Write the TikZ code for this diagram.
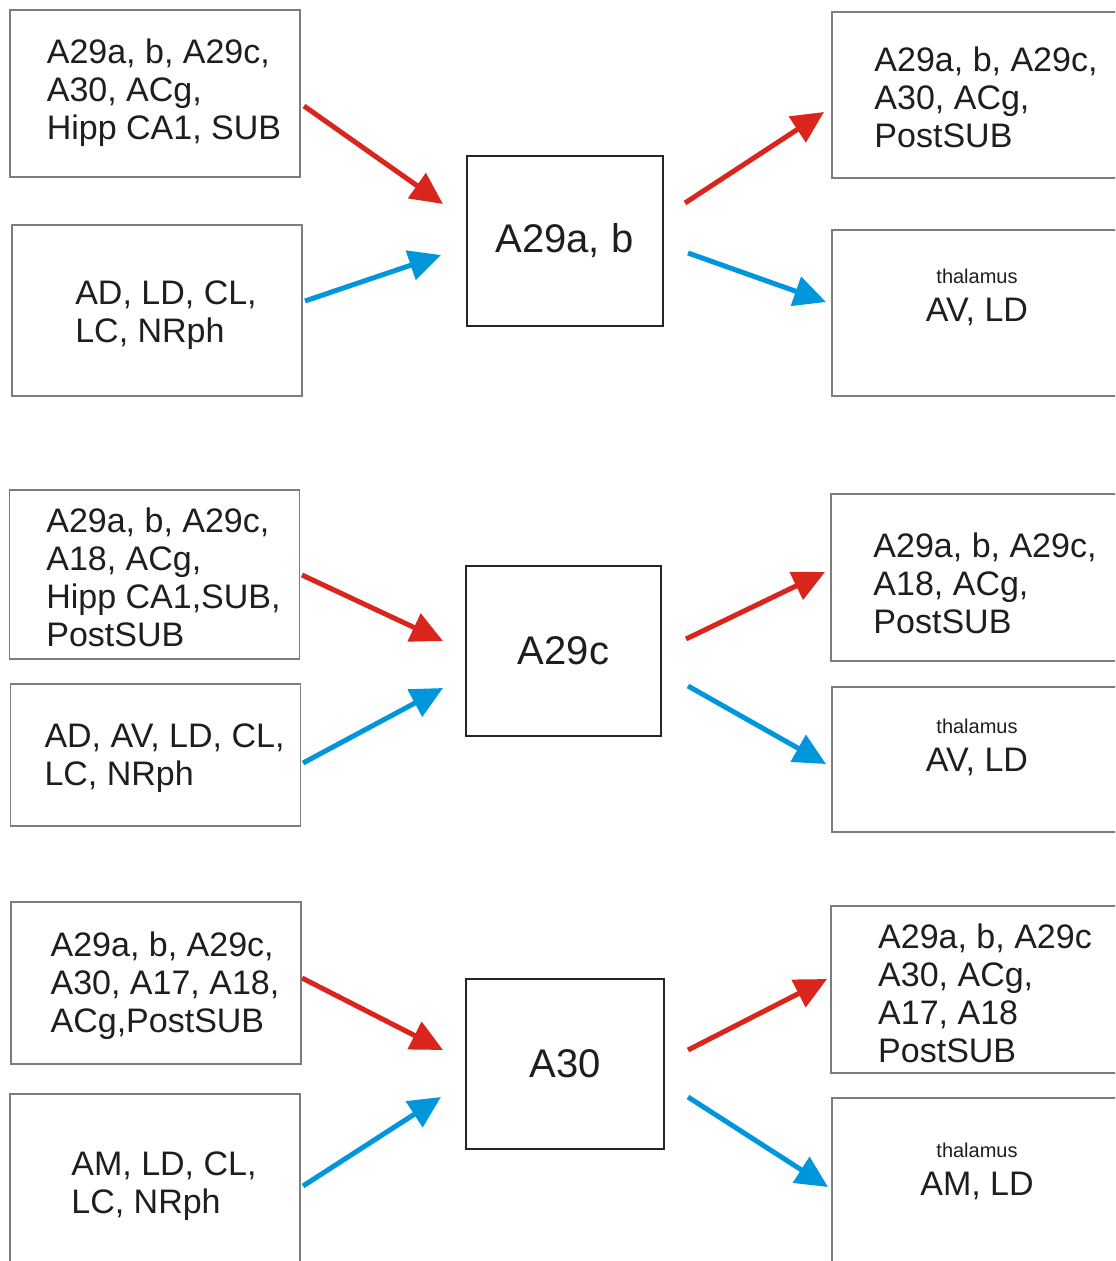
\documentclass[tikz,border=0pt]{standalone}
\usepackage{fontspec}
\setmainfont{Liberation Sans}
\usetikzlibrary{arrows.meta}
\definecolor{arrred}{RGB}{218,37,29}
\definecolor{arrblue}{RGB}{0,150,220}
\definecolor{boxgray}{RGB}{125,125,125}
\definecolor{ink}{RGB}{30,30,30}
\tikzset{
  box/.style={draw=boxgray,line width=0.75pt,minimum width=145pt,minimum height=#1,
    inner sep=0pt,text=ink,font=\fontsize{17}{19}\selectfont},
  core/.style={draw=black!85,line width=1pt,minimum width=98pt,minimum height=85pt,
    text=ink,font=\fontsize{20}{24}\selectfont},
  thal/.style={box=#1,align=center},
  conn/.style={line width=2.5pt,-{Triangle[length=16pt,width=15pt]}},
}
\newcommand{\regions}[2][0pt]{\hspace*{9pt}%
  \raisebox{-#1}[\height][\depth]{\begin{tabular}{@{}l@{}}#2\end{tabular}}}
\newcommand{\thalamus}{{\fontsize{10}{12}\selectfont thalamus}}
\begin{document}
\begin{tikzpicture}[x=0.5pt,y=-0.5pt]
  \clip (0,0) rectangle (1115,1261);
  \node[box=83.5pt] (ab-cx) at (155,93.5) {\regions{A29a, b, A29c,\\A30, ACg,\\Hipp CA1, SUB}};
  \node[box=85.5pt] (ab-th) at (157,310.5) {\regions[2.5pt]{AD, LD, CL,\\LC, NRph}};
  \node[core] (ab) at (564.5,241) {A29a, b};
  \node[box=83pt] (ab-out) at (977,95) {\regions[3.5pt]{A29a, b, A29c,\\A30, ACg,\\PostSUB}};
  \node[thal=83pt,text depth=18pt] (ab-thout) at (977,313) {\thalamus\\AV, LD};

  \node[box=84.5pt] (c-cx) at (154.5,574.5) {\regions[3.5pt]{A29a, b, A29c,\\A18, ACg,\\Hipp CA1,SUB,\\PostSUB}};
  \node[box=71pt] (c-th) at (155.5,755) {\regions[2pt]{AD, AV, LD, CL,\\LC, NRph}};
  \node[core,minimum width=97.5pt] (c) at (563.5,651) {A29c};
  \node[box=83.5pt] (c-out) at (976,577.5) {\regions[5pt]{A29a, b, A29c,\\A18, ACg,\\PostSUB}};
  \node[thal=72.5pt,text depth=14pt] (c-thout) at (977,759.5) {\thalamus\\AV, LD};

  \node[box=81pt] (d-cx) at (156,983) {\regions[2pt]{A29a, b, A29c,\\A30, A17, A18,\\ACg,PostSUB}};
  \node[box=85.5pt] (d-th) at (155,1179.5) {\regions[3.5pt]{AM, LD, CL,\\LC, NRph}};
  \node[core,minimum width=99pt] (d) at (565,1063.5) {A30};
  \node[box=83.5pt] (d-out) at (976,989.5) {\regions[4pt]{A29a, b, A29c\\A30, ACg,\\A17, A18\\PostSUB}};
  \node[thal=83pt,text depth=12pt] (d-thout) at (977,1181) {\thalamus\\AM, LD};

  \foreach \n/\c/\xa/\ya/\xb/\yb in {
      ab-in1/arrred/304/106/443/204, ab-in2/arrblue/305/301/441/255,
      ab-out1/arrred/685/203/824/112, ab-out2/arrblue/688/253/826/302,
      c-in1/arrred/302/575/443/641, c-in2/arrblue/303/763/443/688,
      c-out1/arrred/686/639/825/572, c-out2/arrblue/688/686/826/764,
      d-in1/arrred/302/978/443/1050, d-in2/arrblue/303/1186/441/1097,
      d-out1/arrred/688/1050/827/979, d-out2/arrblue/688/1097/828/1187}{
    \coordinate (\n-from) at (\xa,\ya);
    \coordinate (\n-to) at (\xb,\yb);
    \draw[conn,\c] (\n-from) -- (\n-to);
  }
\end{tikzpicture}
\end{document}
